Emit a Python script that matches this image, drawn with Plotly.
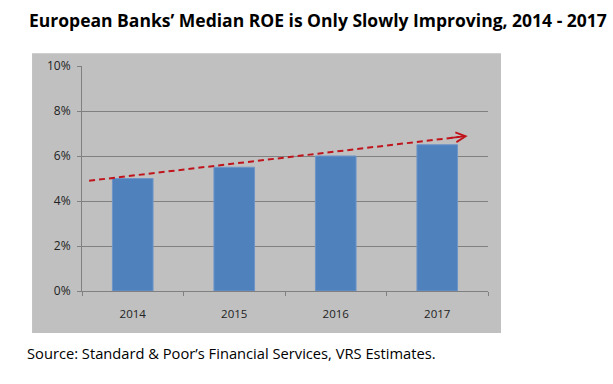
import plotly.graph_objects as go

years = ["2014", "2015", "2016", "2017"]
roe = [5.0, 5.5, 6.0, 6.5]
trend_x = [-0.43, 3.22]
trend_y = [4.9, 6.85]
y_ticks = [0, 2, 4, 6, 8, 10]
y_labels = ["0%", "2%", "4%", "6%", "8%", "10%"]

FONT = "Open Sans"
fig = go.Figure()
fig.add_trace(go.Bar(x=years, y=roe, marker=dict(color="#4F81BD", line=dict(color="#6E95C8", width=1)),
                     width=0.4, hoverinfo="skip"))
fig.add_trace(go.Scatter(x=trend_x, y=trend_y, xaxis="x2", mode="lines",
                         line=dict(color="#C0141C", width=2, dash="6px,4px"), hoverinfo="skip"))

fig.update_layout(
    width=613, height=384,
    margin=dict(l=82, r=125, t=66, b=93),
    paper_bgcolor="white", plot_bgcolor="rgba(0,0,0,0)",
    showlegend=False,
    font=dict(family=FONT, color="#333333"),
    xaxis=dict(type="category", tickson="boundaries", ticks="outside", ticklen=4, tickcolor="#808080",
               showline=True, linecolor="#808080", linewidth=1, showgrid=False, ticklabelstandoff=12,
               tickfont=dict(size=11.5, color="#222222"), range=[-0.5, 3.5]),
    xaxis2=dict(overlaying="x", range=[-0.5, 3.5], visible=False),
    yaxis=dict(range=[0, 10], tickvals=y_ticks, ticktext=y_labels, ticks="outside", ticklen=4,
               tickcolor="#808080", showline=True, linecolor="#808080", linewidth=1,
               showgrid=True, gridcolor="#808080", gridwidth=1, zeroline=False, ticklabelstandoff=4,
               tickfont=dict(size=12, color="#222222")),
    shapes=[dict(type="rect", xref="paper", yref="paper", x0=-0.123, x1=1.032, y0=-0.187, y1=1.057,
                 fillcolor="#C0C0C0", line=dict(width=0), layer="below")],
    annotations=[
        dict(x=3.3, y=6.89, ax=3.12, ay=6.8, xref="x2", yref="y", axref="x2", ayref="y",
             showarrow=True, arrowhead=5, arrowsize=1.2, arrowwidth=1.6, arrowcolor="#C0141C", text=""),
        dict(text="<b>European Banks’ Median ROE is Only Slowly Improving, 2014 - 2017</b>",
             xref="paper", yref="paper", x=-0.135, y=1.205, xanchor="left", yanchor="middle",
             showarrow=False, font=dict(size=17.5, color="#000000", family=FONT)),
        dict(text="Source: Standard & Poor’s Financial Services, VRS Estimates.",
             xref="paper", yref="paper", x=-0.14, y=-0.275, xanchor="left", yanchor="middle",
             showarrow=False, font=dict(size=14.7, color="#000000", family=FONT)),
    ],
)
fig.write_html("out.html", config={"displayModeBar": False},
               post_script="document.body.style.margin='0';")
